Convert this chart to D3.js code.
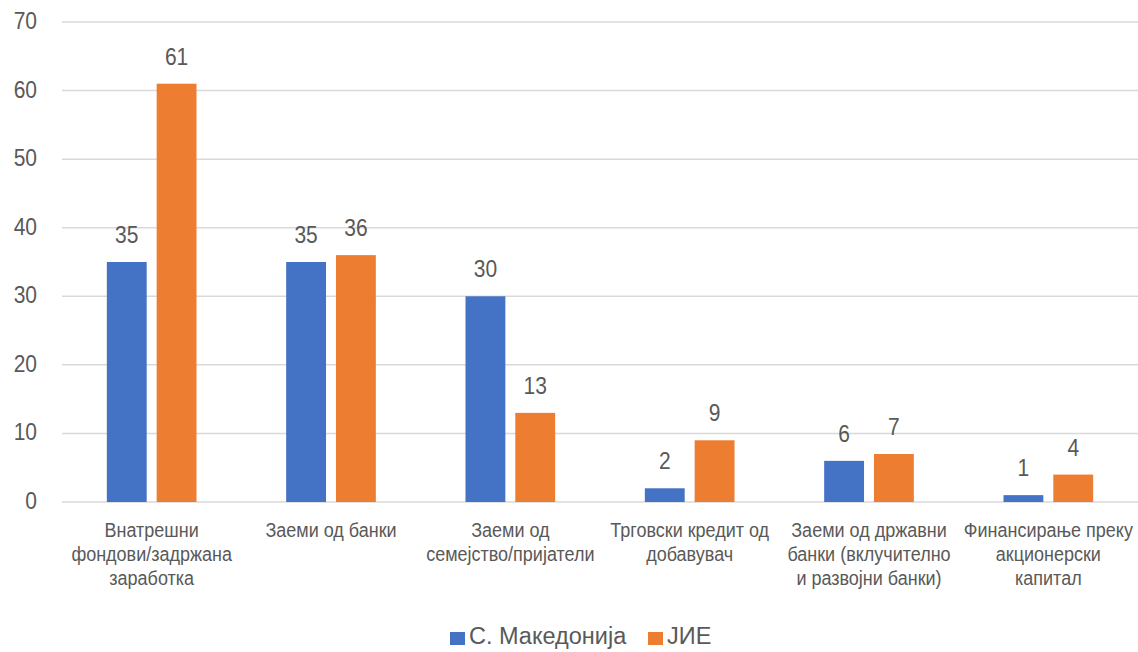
<!DOCTYPE html>
<html>
<head>
<meta charset="utf-8">
<script src="https://cdn.jsdelivr.net/npm/d3@7/dist/d3.min.js"></script>
<style>
  html, body { margin: 0; padding: 0; background: #fff; }
  svg { display: block; }
  text { font-family: "Liberation Sans", Arial, sans-serif; fill: #595959; }
</style>
</head>
<body>
<svg id="chart" width="1138" height="652"></svg>
<script>
// Source categories (multi-line labels)
const categories = [
  ["Внатрешни", "фондови/задржана", "заработка"],
  ["Заеми од банки"],
  ["Заеми од", "семејство/пријатели"],
  ["Трговски кредит од", "добавувач"],
  ["Заеми од државни", "банки (вклучително", "и развојни банки)"],
  ["Финансирање преку", "акционерски", "капитал"]
];
const seriesNames = ["С. Македонија", "ЈИЕ"];
const northMacedonia = [35, 35, 30, 2, 6, 1];
const see = [61, 36, 13, 9, 7, 4];
const yTicks = [0, 10, 20, 30, 40, 50, 60, 70];
const colors = ["#4472C4", "#ED7D31"];

const svg = d3.select("#chart");
const plot = { left: 62, right: 1138, top: 22, bottom: 502 };
const stretch = 1.17; // vertical text stretch

const catIdx = d3.range(categories.length);
const x0 = d3.scaleBand().domain(catIdx).range([plot.left, plot.right])
  .paddingInner(0.5).paddingOuter(0.25);
const x1 = d3.scaleBand().domain([0, 1]).range([0, x0.bandwidth()])
  .paddingInner(0.2).paddingOuter(0);
const y = d3.scaleLinear().domain([0, 70]).range([plot.bottom, plot.top]);

function stretchedText(sel, x, yy, s = stretch) {
  return sel.attr("transform", `translate(${x},${yy}) scale(1,${s})`);
}

// Gridlines
svg.append("g").selectAll("line").data(yTicks).join("line")
  .attr("x1", plot.left).attr("x2", plot.right)
  .attr("y1", d => y(d)).attr("y2", d => y(d))
  .attr("stroke", "#D9D9D9").attr("stroke-width", 1.5);

// Y tick labels
svg.append("g").selectAll("text").data(yTicks).join("text")
  .each(function (d) { stretchedText(d3.select(this), 37, y(d) + 7); })
  .attr("text-anchor", "end")
  .attr("font-size", 21)
  .text(d => d);

// Bars
const data = catIdx.map(i => [northMacedonia[i], see[i]]);
const groups = svg.append("g").selectAll("g").data(data).join("g")
  .attr("transform", (d, i) => `translate(${x0(i)},0)`);

groups.selectAll("rect").data(d => d).join("rect")
  .attr("x", (d, j) => x1(j))
  .attr("width", x1.bandwidth())
  .attr("y", d => y(d))
  .attr("height", d => y(0) - y(d))
  .attr("fill", (d, j) => colors[j]);

// Value labels
groups.selectAll("text.val").data(d => d).join("text")
  .attr("class", "val")
  .each(function (d, j) {
    stretchedText(d3.select(this), x1(j) + x1.bandwidth() / 2, y(d) - 19);
  })
  .attr("text-anchor", "middle")
  .attr("font-size", 21)
  .text(d => d);

// Category labels
const catG = svg.append("g");
catIdx.forEach(i => {
  const cx = x0(i) + x0.bandwidth() / 2;
  categories[i].forEach((line, k) => {
    catG.append("text")
      .call(s => stretchedText(s, cx, 537 + k * 24))
      .attr("text-anchor", "middle")
      .attr("font-size", 18)
      .text(line);
  });
});

// Legend
const legend = svg.append("g");
const legendItems = [
  { name: seriesNames[0], color: colors[0], x: 450 },
  { name: seriesNames[1], color: colors[1], x: 648 }
];
legendItems.forEach(it => {
  legend.append("rect").attr("x", it.x).attr("y", 632).attr("width", 15).attr("height", 13)
    .attr("fill", it.color);
  legend.append("text")
    .call(s => stretchedText(s, it.x + 19, 644, 1))
    .attr("font-size", 23.5)
    .text(it.name);
});
</script>
</body>
</html>
